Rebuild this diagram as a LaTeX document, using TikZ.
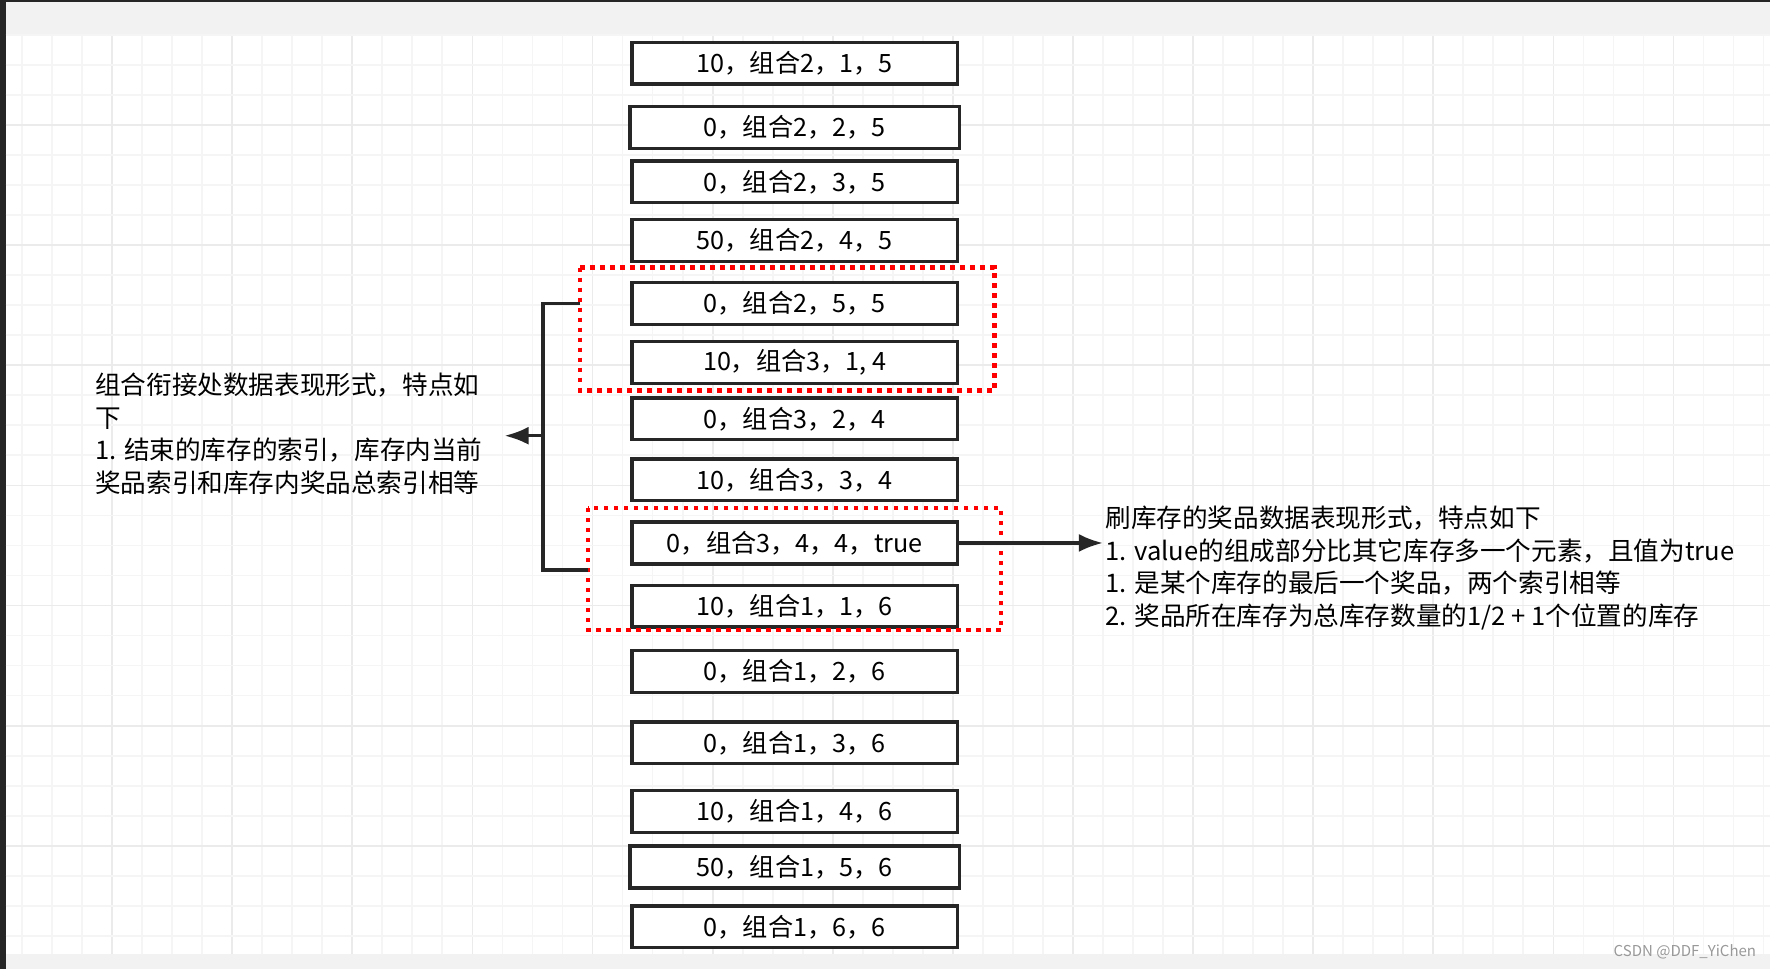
\documentclass[tikz,border=0pt]{standalone}
\usepackage{fontspec}
\usetikzlibrary{arrows.meta}
\setmainfont{Noto Sans CJK SC}
\begin{document}
\begin{tikzpicture}[x=0.5644pt,y=-0.5644pt,
  bx/.style={draw=black!85,line width=1.7pt,minimum width=288*0.5644pt,minimum height=37*0.5644pt,inner sep=0pt,font=\fontsize{12.6}{14}\selectfont},
  redbox/.style={draw=red,line width=2.2pt,dash pattern=on 2.2pt off 2.8pt},
  txt/.style={align=left,anchor=north west,inner sep=0pt,font=\fontsize{12.8}{16.3}\selectfont},
  conn/.style={line width=1.6pt,black!85}]
\useasboundingbox (0,0) rectangle (1568,858);
\fill[black!85] (0,0) rectangle (1568,858);
\fill[gray!10] (5,2) rectangle (1568,31);
\fill[white] (5,31) rectangle (1568,845);
\fill[gray!10] (5,845) rectangle (1568,858);
\foreach \i in {0,...,58} {
  \pgfmathsetmacro\xx{19.5+26.6*\i}
  \pgfmathtruncatemacro\m{mod(\i,4)}
  \ifnum\m=3 \draw[gray!16,line width=0.9pt] (\xx,31)--(\xx,845); \else \draw[gray!8,line width=0.9pt] (\xx,31)--(\xx,845);\fi
}
\foreach \j in {0,...,30} {
  \pgfmathsetmacro\yy{31+26.6*\j}
  \pgfmathtruncatemacro\m{mod(\j,4)}
  \ifnum\m=3 \draw[gray!16,line width=0.9pt] (5,\yy)--(1568,\yy); \else \draw[gray!8,line width=0.9pt] (5,\yy)--(1568,\yy);\fi
}
\node[bx,fill=white] (b1) at (704,56) {10，组合2，1，5};
\node[bx,fill=white,minimum width=292*0.5644pt] (b2) at (704,113) {0，组合2，2，5};
\node[bx,fill=white] (b3) at (704,161) {0，组合2，3，5};
\node[bx,fill=white] (b4) at (704,213) {50，组合2，4，5};
\node[bx,fill=white] (b5) at (704,269) {0，组合2，5，5};
\node[bx,fill=white] (b6) at (704,321) {10，组合3，1, 4};
\node[bx,fill=white] (b7) at (704,371) {0，组合3，2，4};
\node[bx,fill=white] (b8) at (704,425) {10，组合3，3，4};
\node[bx,fill=white] (b9) at (704,481) {0，组合3，4，4，true};
\node[bx,fill=white] (b10) at (704,537) {10，组合1，1，6};
\node[bx,fill=white] (b11) at (704,595) {0，组合1，2，6};
\node[bx,fill=white] (b12) at (704,658) {0，组合1，3，6};
\node[bx,fill=white] (b13) at (704,719) {10，组合1，4，6};
\node[bx,fill=white,minimum width=292*0.5644pt] (b14) at (704,768) {50，组合1，5，6};
\node[bx,fill=white] (b15) at (704,821) {0，组合1，6，6};
\draw[redbox] (514,237) rectangle (881,346);
\draw[redbox] (521,450) rectangle (887,558);
\coordinate (c1) at (514,269);
\coordinate (c2) at (481,269);
\coordinate (c3) at (481,505);
\coordinate (c4) at (521,505);
\coordinate (cm) at (481,386);
\coordinate (ct) at (447,386);
\coordinate (ce) at (977,481);
\draw[conn] (c1)--(c2)--(c3)--(c4);
\draw[conn,-{Latex[length=12pt,width=9pt]}] (cm)--(ct);
\draw[conn,-{Latex[length=12pt,width=9pt]}] (b9.east)--(ce);
\node[txt] (lt) at (84,330) {组合衔接处数据表现形式，特点如\\下\\1. 结束的库存的索引，库存内当前\\奖品索引和库存内奖品总索引相等};
\node[txt] (rt) at (979,448) {刷库存的奖品数据表现形式，特点如下\\1. value的组成部分比其它库存多一个元素，且值为true\\1. 是某个库存的最后一个奖品，两个索引相等\\2. 奖品所在库存为总库存数量的1/2 + 1个位置的库存};
\node[anchor=east,inner sep=0pt,text=gray!80,font=\fontsize{7.5}{9}\selectfont] (wm) at (1556,843) {CSDN @DDF\_YiChen};
\end{tikzpicture}
\end{document}
